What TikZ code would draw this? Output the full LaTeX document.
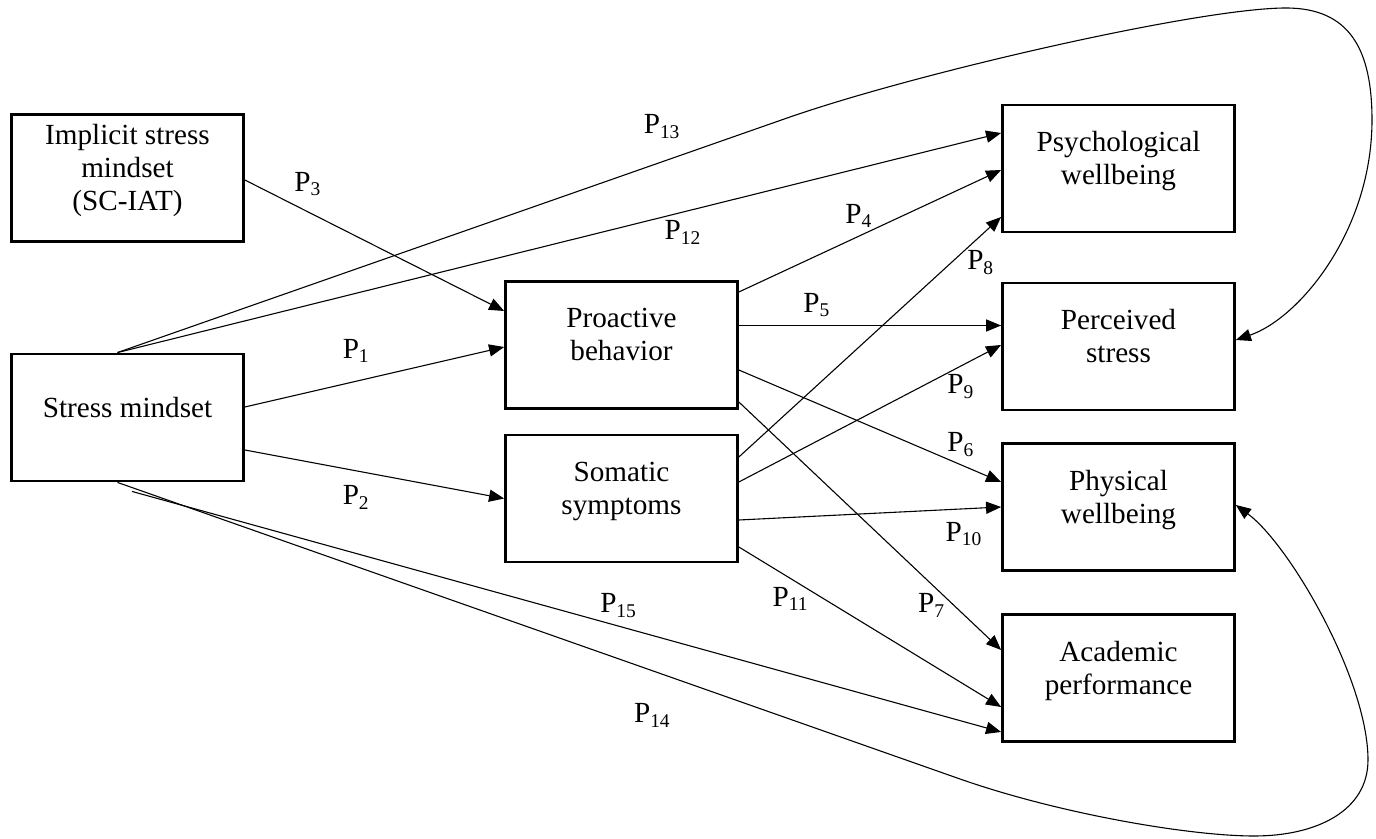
\documentclass[tikz,border=0pt]{standalone}
\usepackage{fontspec}
\setmainfont{Liberation Serif}
\usetikzlibrary{arrows.meta,calc}
\tikzset{
    box/.style={draw, line width=1.1pt, minimum width=95.4pt, minimum height=52.3pt, align=center, inner sep=2pt, text depth=8.5pt},
    arr/.style={-{Triangle[length=6.2pt,width=5pt]}, line width=0.45pt},
}
\tikzstyle{every node}=[font=\fontsize{12}{13.5}\selectfont]

\begin{document}
\begin{tikzpicture}[x=0.01445cm, y=-0.01445cm]
        \useasboundingbox (0,0) rectangle (1376,839);

        % predictors
        \node[box] (impl) at (127.5,178) {Implicit stress\\mindset\\(SC-IAT)};
        \node[box] (stress) at (127.5,417.5) {Stress mindset};

        % mediators
        \node[box] (proact) at (621.5,345) {Proactive\\behavior};
        \node[box] (somatic) at (621.5,498.5) {Somatic\\symptoms};

        % outcomes
        \node[box] (psych) at (1118.5,168.5) {Psychological\\wellbeing};
        \node[box] (percv) at (1118.5,346.5) {Perceived\\stress};
        \node[box] (phys) at (1118.5,507) {Physical\\wellbeing};
        \node[box] (acad) at (1118.5,678) {Academic\\performance};

        \draw[arr] ($(stress.east)+(0,-10.5)$) -- ($(proact.west)+(0,2)$)
            node[pos=.43, above=4pt] (p1) {P\textsubscript{1}};
        \draw[arr] ($(stress.east)+(0,32.5)$) -- (somatic.west)
            node[pos=.43, below=2.5pt] (p2) {P\textsubscript{2}};
        \draw[arr] ($(impl.east)+(0,2)$) -- ($(proact.west)+(0,-34)$)
            node[pos=.243, above=3pt] (p3) {P\textsubscript{3}};

        \draw[arr] ($(proact.east)+(0,-53)$) -- ($(psych.west)+(0,1.5)$)
            node[pos=.458, above] (p4) {P\textsubscript{4}};
        \draw[arr] ($(proact.east)+(0,-19.5)$) -- ($(percv.west)+(0,-21)$)
            node[pos=.298, above] (p5) {P\textsubscript{5}};
        \draw[arr] ($(proact.east)+(0,25)$) -- ($(phys.west)+(0,-25)$)
            node[pos=.847, above] (p6) {P\textsubscript{6}};
        \draw[arr] ($(proact.east)+(0,57)$) -- ($(acad.west)+(0,-28)$)
            node[pos=.82, left] (p7) {P\textsubscript{7}};

        \draw[arr] ($(somatic.east)+(0,-41.5)$) -- ($(psych.west)+(0,48.5)$)
            node[pos=.81, right=3pt] (p8) {P\textsubscript{8}};
        \draw[arr] ($(somatic.east)+(0,-16.5)$) -- ($(percv.west)+(0,-1.5)$)
            node[pos=.847, below] (p9) {P\textsubscript{9}};
        \draw[arr] ($(somatic.east)+(0,21.5)$) -- (phys.west)
            node[pos=.859, below=2pt] (p10) {P\textsubscript{10}};
        \draw[arr] ($(somatic.east)+(0,48.5)$) -- ($(acad.west)+(0,29)$)
            node[pos=.198, below] (p11) {P\textsubscript{11}};

        % direct paths
        \draw[arr] ($(stress.north)+(-10,0)$) -- ($(psych.west)+(0,-35.5)$)
            node[pos=.64, below] (p12) {P\textsubscript{12}};
        \draw[arr] ($(stress.north)+(-10,0)$) -- node[pos=.81, above=6pt] (p13) {P\textsubscript{13}} (790,117)
            .. controls (920,72) and (1200,8) .. (1286,8)
            .. controls (1350,8) and (1372,50) .. (1372,120)
            .. controls (1372,230) and (1300,318) .. ($(percv.east)+(0,-6.5)$);
        \draw[arr] ($(stress.south)+(-10,0)$) -- node[pos=.635, below=10pt] (p14) {P\textsubscript{14}} (960,779)
            .. controls (1060,814) and (1190,836) .. (1254,836)
            .. controls (1318,836) and (1368,810) .. (1368,760)
            .. controls (1368,680) and (1290,545) .. ($(phys.east)+(0,-2)$);
        \draw[arr] ($(stress.south)+(4.5,9)$) -- ($(acad.west)+(0,54)$)
            node[pos=.56, above] (p15) {P\textsubscript{15}};
\end{tikzpicture}
\end{document}
